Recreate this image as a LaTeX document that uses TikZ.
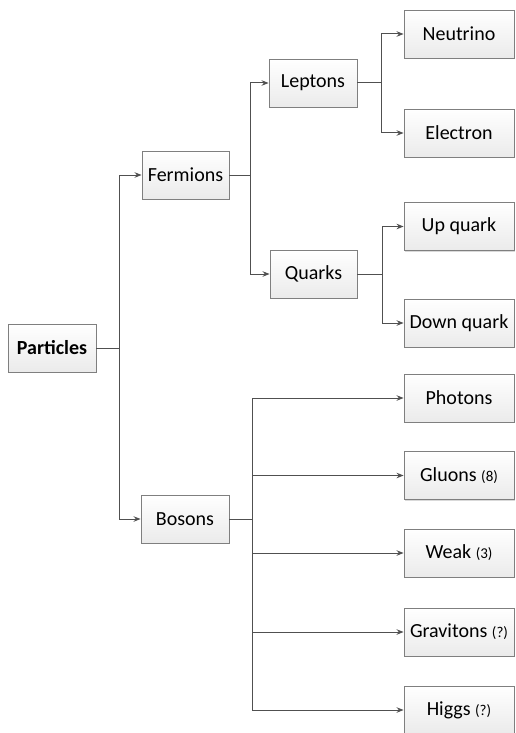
\documentclass[tikz,border=0pt]{standalone}
\usepackage{fontspec}
\setmainfont{Carlito}
\usetikzlibrary{arrows.meta,shadows}
\definecolor{linec}{HTML}{505050}
\definecolor{boxc}{HTML}{7F7F7F}
\tikzset{
  box/.style={draw=boxc, line width=0.9pt, top color=white, bottom color=black!8,
    minimum height=48pt, inner sep=0pt, font=\fontsize{20}{23}\selectfont,
    drop shadow={shadow xshift=1.2pt, shadow yshift=-1.2pt, opacity=0.3, fill=black!50}},
  conn/.style={draw=linec, line width=1pt},
  arr/.style={conn, -{Stealth[length=7pt,width=5.5pt]}}
}
\newcommand{\smp}[1]{{\fontsize{15}{17}\selectfont #1}}
\begin{document}
\begin{tikzpicture}[x=1pt,y=-1pt]
\useasboundingbox (0,0) rectangle (516,733);
% nodes
\node[box, minimum width=88pt, font=\fontsize{20}{23}\selectfont\bfseries] (P) at (52,348) {Particles};
\node[box, minimum width=87pt] (F) at (185.5,175) {Fermions};
\node[box, minimum width=88pt] (B) at (185,519) {Bosons};
\node[box, minimum width=88pt] (L) at (313,83) {Leptons};
\node[box, minimum width=87pt] (Q) at (313.5,274) {Quarks};
\node[box, minimum width=110pt] (N) at (459,34) {Neutrino};
\node[box, minimum width=110pt] (E) at (459,133) {Electron};
\node[box, minimum width=110pt] (U) at (459,226.5) {Up quark};
\node[box, minimum width=110pt] (D) at (459,323) {Down quark};
\node[box, minimum width=110pt] (Ph) at (459,398) {Photons};
\node[box, minimum width=110pt] (G) at (459,475.5) {Gluons \smp{(8)}};
\node[box, minimum width=110pt] (W) at (459,553) {Weak \smp{(3)}};
\node[box, minimum width=110pt] (Gr) at (459,632) {Gravitons \smp{(?)}};
\node[box, minimum width=110pt] (H) at (459,710) {Higgs \smp{(?)}};
% junctions
\coordinate (j1) at (119,348);
\coordinate (j2) at (250,175);
\coordinate (j3) at (381,83);
\coordinate (j4) at (382,274);
\coordinate (j5) at (252,519);
% connectors
\draw[conn] (P.east) -- (j1);
\draw[arr] (j1) |- (F.west);
\draw[arr] (j1) |- (B.west);
\draw[conn] (F.east) -- (j2);
\draw[arr] (j2) |- (L.west);
\draw[arr] (j2) |- (Q.west);
\draw[conn] (L.east) -- (j3);
\draw[arr] (j3) |- (N.west);
\draw[arr] (j3) |- (E.west);
\draw[conn] (Q.east) -- (j4);
\draw[arr] (j4) |- (U.west);
\draw[arr] (j4) |- (D.west);
\draw[conn] (B.east) -- (j5);
\draw[arr] (j5) |- (Ph.west);
\draw[arr] (j5) |- (G.west);
\draw[arr] (j5) |- (W.west);
\draw[arr] (j5) |- (Gr.west);
\draw[arr] (j5) |- (H.west);
\end{tikzpicture}
\end{document}
